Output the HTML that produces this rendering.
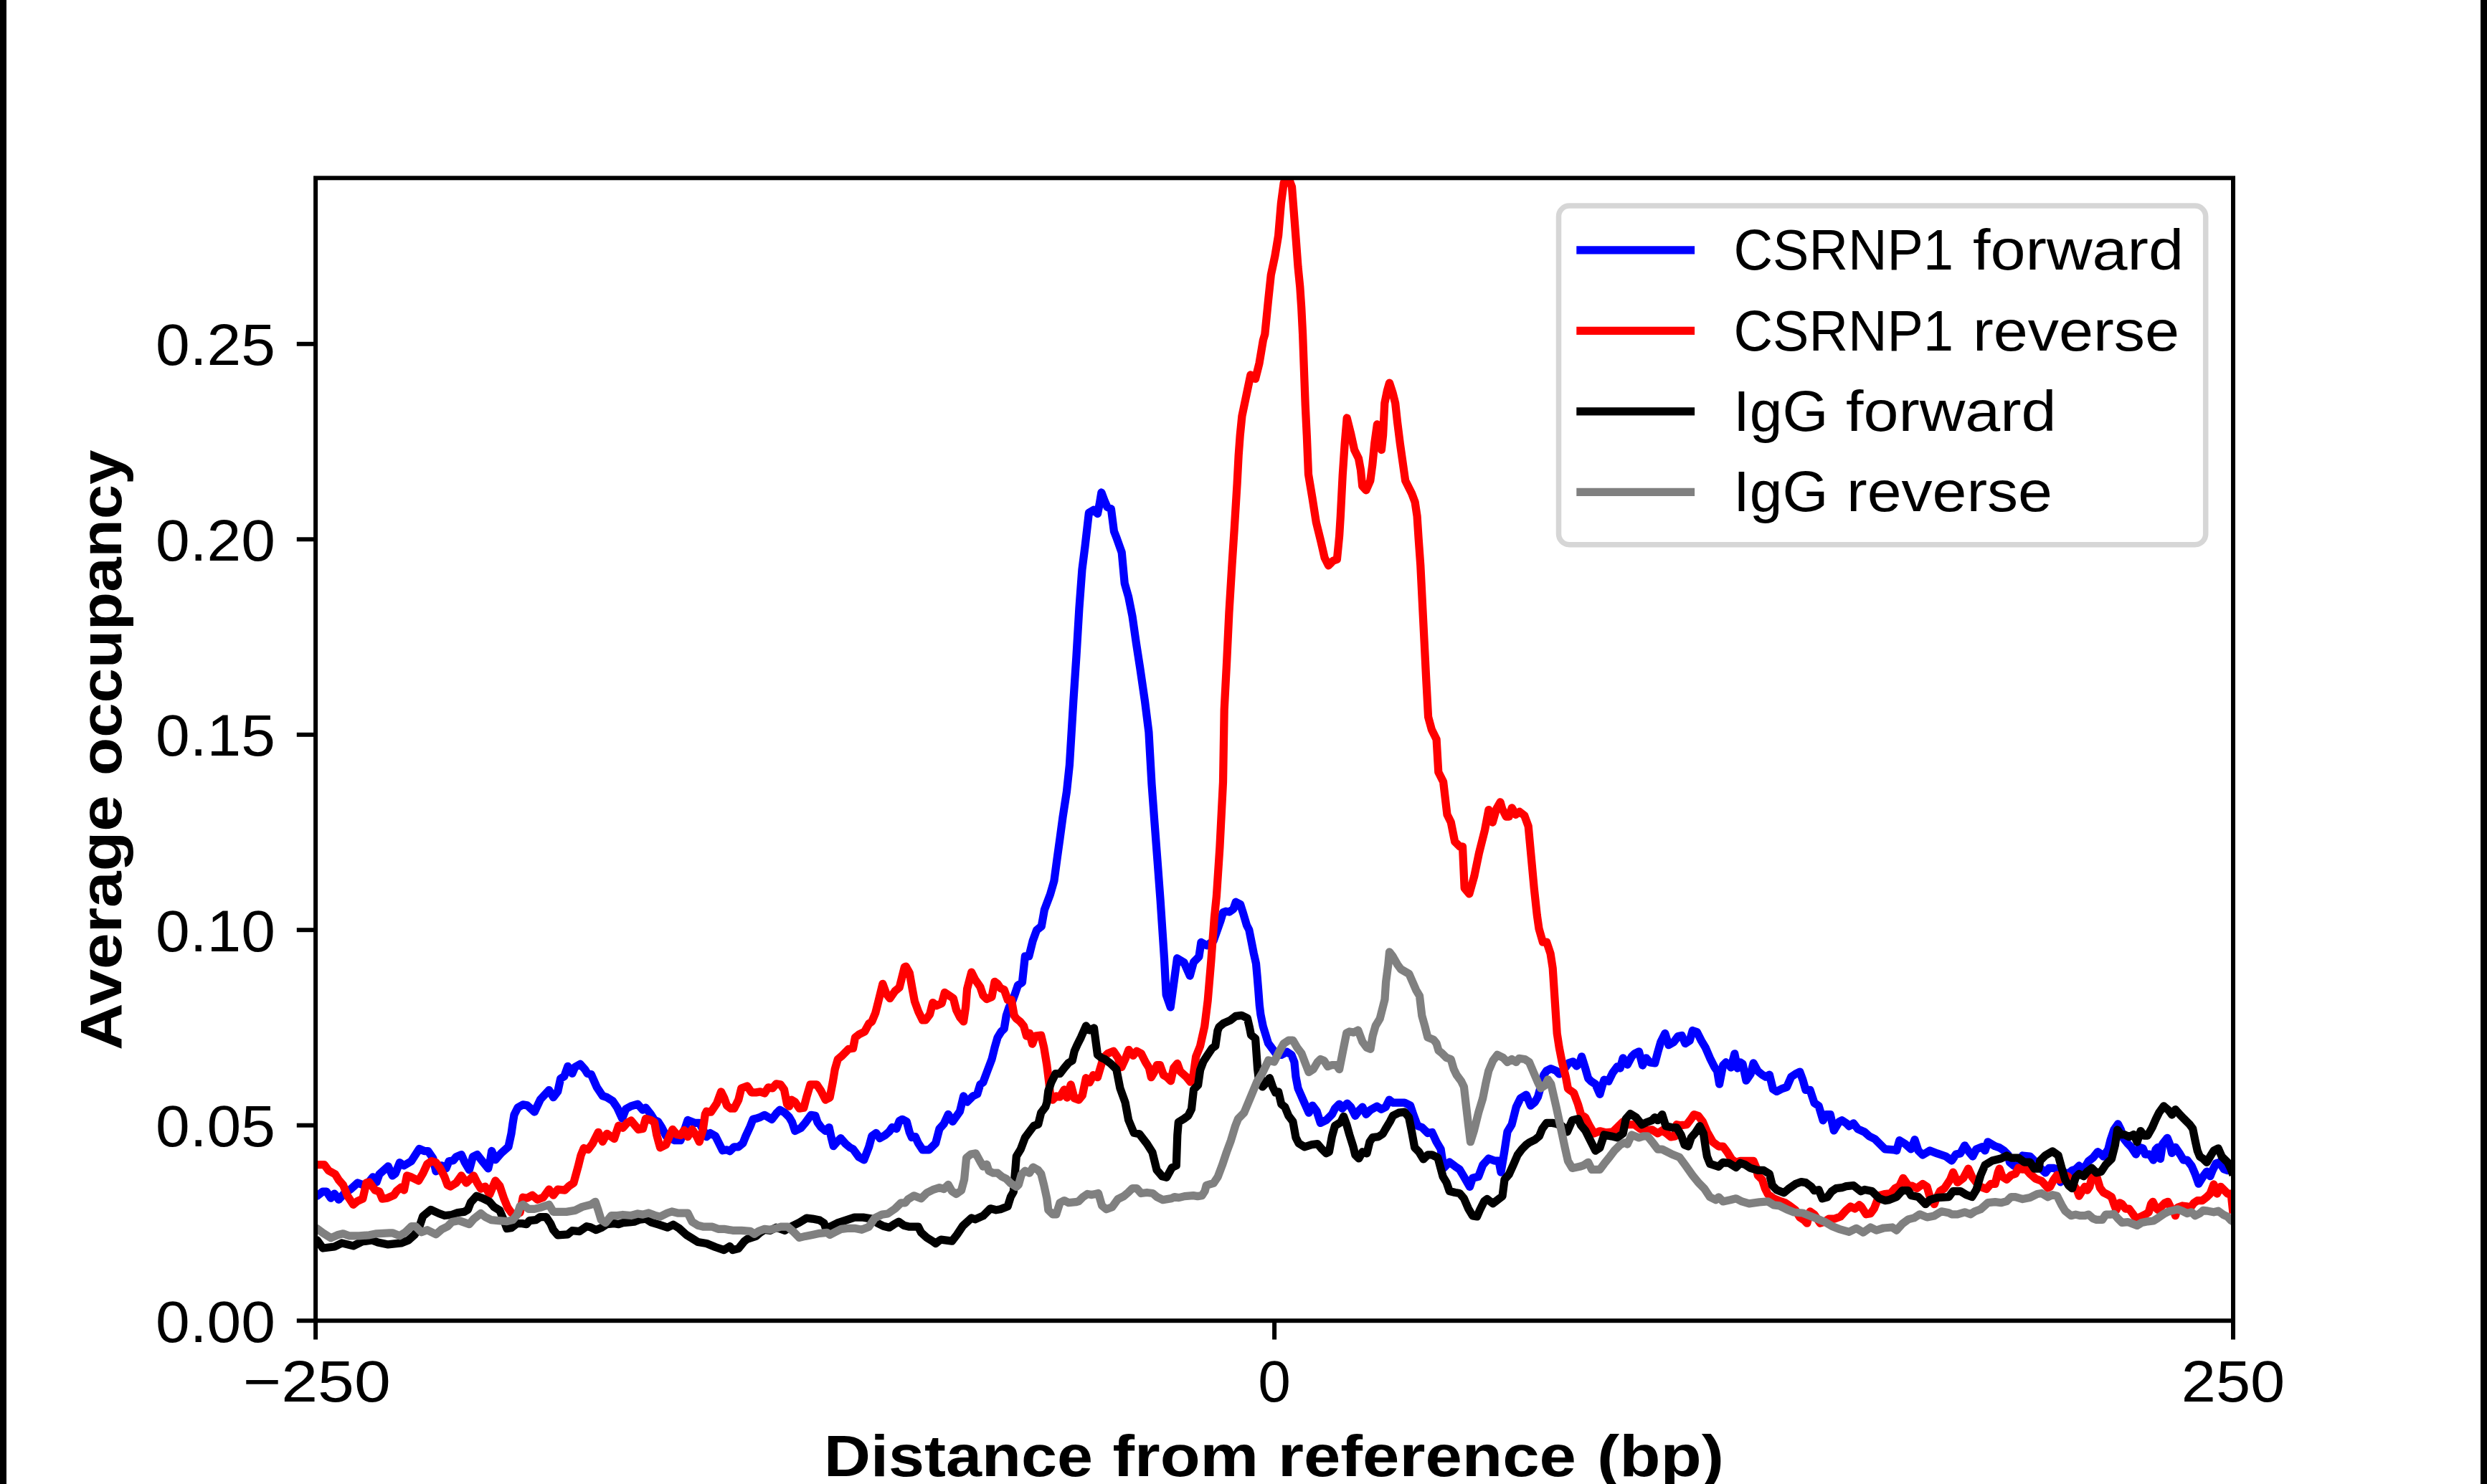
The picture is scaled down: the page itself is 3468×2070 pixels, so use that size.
<!DOCTYPE html>
<html><head><meta charset="utf-8"><style>
html,body{margin:0;padding:0;background:#fff;width:3468px;height:2070px;overflow:hidden}
svg{display:block}
text{font-family:"Liberation Sans",sans-serif;fill:#000}
</style></head><body>
<svg width="3468" height="2070" viewBox="0 0 3468 2070">
<defs><clipPath id="ax"><rect x="440.1" y="248.3" width="2673.9" height="1593.9"/></clipPath></defs>
<rect x="0" y="0" width="3468" height="2070" fill="#fff"/>
<rect x="0" y="0" width="9" height="2070" fill="#000"/>
<rect x="3459" y="0" width="9" height="2070" fill="#000"/>
<g fill="none" stroke-width="11.25" stroke-linejoin="round" stroke-linecap="butt" clip-path="url(#ax)">
<path d="M437.1,1668.2 L442.1,1668.2 L450.2,1662.1 L455.3,1662.1 L461.3,1671.2 L466.4,1665.2 L472.4,1673.3 L480.5,1664.2 L488.6,1659.1 L498.7,1650.0 L506.8,1653.0 L514.9,1648.0 L520.0,1641.9 L525.0,1649.0 L529.0,1637.9 L541.2,1626.8 L547.2,1639.9 L551.3,1636.9 L557.3,1621.7 L563.4,1625.8 L573.5,1619.7 L584.6,1602.5 L591.7,1605.5 L596.8,1605.5 L603.8,1615.6 L607.9,1633.8 L611.9,1631.8 L616.0,1625.8 L622.0,1629.8 L626.1,1619.7 L632.1,1618.7 L636.2,1613.6 L643.3,1610.6 L648.3,1621.7 L654.4,1631.8 L659.4,1613.6 L665.5,1610.6 L672.6,1619.7 L680.7,1629.8 L683.7,1617.7 L685.7,1605.5 L690.8,1617.7 L698.8,1608.6 L709.0,1599.5 L713.0,1581.3 L715.0,1567.1 L717.0,1555.0 L722.1,1544.9 L729.2,1540.9 L735.2,1541.9 L745.3,1551.0 L753.4,1533.8 L765.6,1520.6 L771.6,1530.7 L777.7,1522.7 L781.7,1504.5 L786.8,1501.4 L791.8,1487.3 L797.9,1497.4 L801.9,1488.3 L809.0,1484.3 L816.1,1492.3 L819.1,1497.4 L824.2,1498.4 L832.3,1516.6 L840.3,1528.7 L846.4,1530.7 L854.5,1535.8 L860.6,1544.9 L867.6,1560.1 L872.7,1546.9 L880.0,1542.9 L889.3,1540.1 L896.4,1548.2 L900.4,1545.2 L907.5,1554.3 L912.6,1562.4 L917.6,1564.4 L922.7,1572.5 L928.7,1584.6 L940.9,1590.7 L948.9,1590.7 L955.0,1574.5 L959.0,1562.4 L969.2,1566.4 L975.2,1566.4 L981.3,1577.5 L985.3,1585.6 L990.4,1580.5 L997.5,1584.6 L1007.6,1604.8 L1013.6,1603.8 L1017.7,1605.8 L1023.7,1599.8 L1029.8,1599.8 L1035.9,1594.7 L1039.9,1584.6 L1046.0,1571.5 L1050.0,1561.3 L1054.1,1560.3 L1060.1,1558.3 L1066.2,1555.3 L1076.3,1561.3 L1082.4,1553.3 L1087.4,1548.2 L1094.5,1552.2 L1100.5,1558.3 L1104.6,1565.4 L1108.6,1577.5 L1116.7,1573.5 L1122.8,1566.4 L1130.9,1555.3 L1136.9,1556.3 L1140.0,1565.4 L1145.0,1572.5 L1151.1,1577.5 L1156.1,1572.5 L1159.2,1586.6 L1162.2,1598.7 L1167.3,1592.7 L1172.3,1587.6 L1179.4,1595.7 L1185.4,1600.8 L1189.5,1602.8 L1197.6,1613.9 L1204.7,1617.9 L1211.7,1599.8 L1215.8,1584.6 L1221.8,1580.5 L1226.9,1587.6 L1234.0,1583.6 L1240.0,1578.5 L1244.1,1572.5 L1250.1,1574.5 L1254.2,1563.4 L1258.2,1561.3 L1264.3,1564.4 L1268.3,1579.5 L1271.4,1586.6 L1276.4,1585.6 L1280.5,1594.7 L1286.5,1603.8 L1295.6,1603.8 L1304.7,1594.7 L1310.0,1574.5 L1316.3,1567.4 L1322.3,1554.3 L1328.4,1564.4 L1338.5,1550.2 L1343.6,1529.0 L1348.6,1537.1 L1356.7,1529.0 L1362.8,1526.0 L1366.8,1512.8 L1370.9,1509.8 L1376.9,1493.6 L1383.0,1477.5 L1387.0,1461.3 L1391.1,1447.1 L1396.1,1439.0 L1400.2,1435.0 L1403.2,1416.8 L1407.2,1404.7 L1411.3,1397.6 L1415.3,1386.5 L1419.4,1374.4 L1425.4,1370.3 L1429.4,1333.8 L1434.8,1333.8 L1440.2,1312.2 L1445.6,1297.4 L1452.3,1292.0 L1456.4,1269.1 L1464.5,1247.5 L1469.9,1228.7 L1473.9,1199.0 L1478.0,1169.4 L1482.0,1139.7 L1487.4,1104.7 L1491.4,1067.0 L1496.8,978.1 L1500.9,916.1 L1504.9,848.7 L1508.9,794.8 L1513.0,762.4 L1518.4,715.3 L1525.1,711.2 L1530.5,716.6 L1533.2,703.1 L1535.9,687.0 L1539.9,697.7 L1544.0,707.2 L1549.4,709.9 L1553.4,740.9 L1557.5,751.6 L1564.2,770.5 L1568.2,813.6 L1573.6,832.5 L1579.0,859.5 L1584.4,897.2 L1589.8,932.2 L1596.5,978.1 L1601.9,1021.2 L1606.0,1093.9 L1610.0,1147.8 L1614.1,1201.7 L1618.1,1255.6 L1620.8,1296.1 L1623.5,1336.5 L1626.2,1387.7 L1632.2,1404.9 L1641.5,1336.7 L1651.1,1342.6 L1659.3,1361.1 L1664.5,1341.9 L1671.9,1334.5 L1674.9,1314.4 L1683.0,1318.9 L1692.2,1312.2 L1702.1,1284.1 L1705.4,1272.8 L1709.4,1271.2 L1714.3,1272.0 L1719.9,1267.9 L1723.2,1258.2 L1729.6,1261.5 L1733.7,1274.4 L1738.5,1290.6 L1741.8,1297.0 L1745.0,1313.2 L1748.2,1329.4 L1751.5,1343.9 L1753.1,1361.7 L1754.7,1381.1 L1756.3,1402.2 L1757.9,1415.1 L1761.2,1431.3 L1768.5,1455.2 L1774.6,1463.3 L1780.6,1471.4 L1786.7,1471.4 L1794.8,1467.3 L1800.9,1471.4 L1804.9,1481.5 L1806.9,1501.7 L1810.0,1517.9 L1817.0,1534.1 L1825.1,1552.2 L1830.2,1542.1 L1836.2,1550.2 L1841.3,1566.4 L1849.4,1562.4 L1857.5,1554.3 L1861.5,1546.2 L1867.6,1540.1 L1871.6,1546.2 L1878.7,1539.1 L1883.7,1544.2 L1889.8,1556.3 L1895.9,1548.2 L1899.9,1544.2 L1905.0,1554.3 L1911.0,1548.2 L1920.1,1543.2 L1926.2,1547.2 L1932.2,1544.2 L1937.3,1534.1 L1942.4,1538.1 L1958.5,1538.1 L1966.6,1542.1 L1970.7,1554.3 L1976.7,1570.4 L1982.8,1572.5 L1990.9,1580.5 L1996.9,1579.5 L2003.0,1592.7 L2009.1,1602.8 L2013.1,1629.2 L2021.2,1621.1 L2029.3,1627.1 L2035.3,1631.2 L2041.4,1641.3 L2049.5,1655.4 L2053.5,1643.3 L2061.6,1641.3 L2067.7,1625.1 L2075.8,1616.0 L2083.9,1619.0 L2089.9,1619.0 L2093.0,1635.2 L2098.0,1604.9 L2102.0,1578.6 L2108.1,1568.5 L2114.2,1544.3 L2120.2,1532.1 L2128.3,1527.1 L2134.4,1542.2 L2140.5,1537.1 L2144.5,1530.0 L2148.5,1515.9 L2152.6,1499.7 L2156.6,1493.6 L2162.7,1490.6 L2170.0,1493.6 L2174.3,1498.1 L2182.3,1490.0 L2187.4,1482.9 L2193.5,1480.9 L2198.5,1487.0 L2202.6,1482.9 L2205.6,1473.8 L2210.6,1490.0 L2214.7,1504.2 L2218.7,1508.2 L2224.8,1512.2 L2230.9,1526.4 L2234.9,1512.2 L2236.9,1506.2 L2243.0,1508.2 L2249.0,1496.1 L2255.1,1488.0 L2259.2,1490.0 L2263.2,1475.9 L2269.3,1485.0 L2275.3,1473.8 L2279.4,1469.8 L2285.4,1466.8 L2290.5,1486.0 L2295.5,1475.9 L2300.6,1481.9 L2307.7,1482.9 L2311.7,1467.8 L2315.8,1453.6 L2321.8,1441.5 L2326.9,1457.7 L2333.9,1453.6 L2340.0,1445.5 L2345.1,1444.5 L2350.1,1455.6 L2356.2,1451.6 L2360.2,1437.5 L2366.3,1439.5 L2372.4,1451.6 L2378.4,1461.7 L2384.5,1475.9 L2390.5,1488.0 L2394.6,1494.1 L2397.6,1512.2 L2402.7,1486.0 L2406.7,1481.9 L2410.8,1485.0 L2413.8,1489.0 L2418.8,1469.8 L2422.9,1490.0 L2426.9,1481.9 L2430.0,1483.9 L2435.0,1507.2 L2441.1,1498.1 L2445.1,1482.9 L2451.2,1494.1 L2457.3,1499.1 L2462.3,1502.1 L2467.4,1499.1 L2472.4,1519.3 L2477.5,1522.4 L2485.6,1518.3 L2491.6,1516.3 L2497.7,1502.1 L2503.7,1498.1 L2509.8,1495.1 L2513.9,1506.2 L2517.9,1520.3 L2524.0,1520.3 L2530.0,1538.5 L2536.1,1542.6 L2542.2,1562.8 L2546.2,1554.7 L2552.3,1554.7 L2557.3,1576.9 L2564.4,1564.8 L2568.4,1562.8 L2574.5,1566.8 L2578.5,1570.9 L2584.6,1566.8 L2590.7,1574.9 L2600.0,1579.0 L2606.3,1584.7 L2614.4,1588.7 L2628.5,1602.9 L2640.6,1603.9 L2644.7,1604.9 L2648.7,1590.7 L2656.8,1595.8 L2664.9,1602.9 L2670.0,1589.7 L2675.0,1604.9 L2681.1,1611.0 L2691.2,1604.9 L2701.3,1608.9 L2713.4,1613.0 L2721.5,1619.0 L2727.6,1610.0 L2733.6,1608.9 L2739.7,1597.8 L2745.8,1606.9 L2750.8,1613.0 L2755.9,1602.9 L2763.9,1599.8 L2768.0,1604.9 L2772.0,1592.8 L2782.1,1598.8 L2788.2,1600.9 L2794.3,1604.9 L2800.3,1611.0 L2802.4,1621.1 L2808.4,1626.1 L2814.5,1627.1 L2820.5,1612.0 L2830.7,1613.0 L2836.7,1619.0 L2842.8,1627.1 L2852.3,1635.9 L2857.2,1629.4 L2863.7,1629.4 L2868.5,1631.0 L2873.4,1648.8 L2879.8,1635.9 L2884.7,1636.7 L2889.5,1632.6 L2894.4,1631.0 L2899.2,1626.2 L2905.7,1631.0 L2912.2,1619.7 L2918.7,1614.8 L2925.1,1606.7 L2930.0,1610.0 L2933.2,1613.2 L2939.7,1603.5 L2942.9,1590.6 L2947.8,1576.0 L2953.4,1567.9 L2957.5,1576.0 L2960.7,1587.3 L2967.2,1595.4 L2972.0,1600.3 L2978.5,1610.0 L2983.4,1600.3 L2988.2,1601.9 L2991.4,1610.0 L2997.9,1610.0 L3002.8,1618.1 L3006.0,1603.5 L3009.2,1600.3 L3012.5,1616.4 L3015.7,1595.4 L3022.2,1587.3 L3025.4,1595.4 L3028.6,1608.4 L3033.5,1600.3 L3040.0,1610.0 L3044.8,1618.1 L3049.7,1618.1 L3056.1,1626.2 L3061.0,1637.5 L3065.8,1651.2 L3072.3,1640.7 L3077.2,1634.2 L3082.0,1640.7 L3085.2,1632.6 L3090.1,1622.9 L3094.9,1621.3 L3101.4,1631.0 L3106.3,1632.6 L3111.1,1631.0 L3114.0,1631.3" stroke="#0000ff"/>
<path d="M437.1,1624.7 L442.1,1624.7 L452.2,1624.7 L458.3,1632.8 L467.4,1637.9 L472.4,1646.0 L478.5,1653.0 L484.6,1668.2 L492.7,1680.3 L498.7,1675.3 L505.8,1672.2 L510.9,1650.0 L514.9,1649.0 L523.0,1660.1 L529.0,1662.1 L533.1,1672.2 L540.2,1671.2 L549.3,1667.2 L553.3,1661.1 L559.4,1656.1 L563.4,1660.1 L567.5,1639.9 L573.5,1641.9 L583.6,1647.0 L589.7,1636.9 L595.8,1623.7 L601.8,1619.7 L607.9,1621.7 L613.9,1629.8 L620.0,1641.9 L624.1,1653.0 L628.1,1655.1 L636.2,1650.0 L643.3,1639.9 L650.3,1650.0 L660.4,1639.9 L665.5,1650.0 L670.5,1658.1 L676.6,1655.1 L682.7,1666.2 L690.8,1647.0 L696.8,1654.1 L702.9,1672.2 L707.9,1684.4 L713.0,1691.5 L719.1,1694.5 L725.1,1691.5 L729.2,1670.2 L735.2,1671.2 L742.3,1667.2 L749.4,1673.3 L757.5,1670.2 L765.6,1659.1 L771.6,1667.2 L777.7,1659.1 L787.8,1660.1 L793.9,1654.1 L799.9,1650.0 L806.0,1627.8 L810.0,1611.6 L814.1,1601.5 L820.1,1603.5 L826.2,1595.4 L834.3,1579.3 L840.3,1592.4 L846.4,1581.3 L856.5,1588.4 L862.6,1570.2 L868.6,1573.2 L874.7,1566.1 L880.0,1563.1 L884.3,1568.4 L890.3,1575.5 L896.4,1574.5 L900.4,1560.3 L907.5,1562.4 L912.6,1565.4 L915.6,1582.6 L918.6,1593.7 L920.6,1600.8 L928.7,1596.7 L932.8,1586.6 L937.8,1575.5 L943.9,1582.6 L948.9,1583.6 L954.0,1576.5 L959.0,1585.6 L965.1,1575.5 L971.2,1584.6 L975.2,1592.7 L980.3,1575.5 L983.3,1554.3 L985.3,1550.2 L991.4,1551.2 L999.5,1539.1 L1005.5,1522.9 L1009.6,1531.0 L1013.6,1542.1 L1018.7,1546.2 L1023.7,1546.2 L1029.8,1534.1 L1033.8,1517.9 L1041.9,1514.9 L1048.0,1523.9 L1054.1,1523.9 L1060.1,1522.9 L1066.2,1525.0 L1071.2,1516.9 L1077.3,1517.9 L1082.4,1511.8 L1088.4,1512.8 L1093.5,1519.9 L1097.5,1540.1 L1100.5,1543.2 L1103.6,1534.1 L1108.6,1537.1 L1114.7,1546.2 L1120.8,1545.2 L1124.8,1530.0 L1129.9,1512.8 L1139.0,1512.8 L1145.0,1521.9 L1151.1,1534.1 L1157.1,1531.0 L1161.2,1509.8 L1164.2,1491.6 L1168.3,1477.5 L1173.3,1473.4 L1183.4,1463.3 L1189.5,1462.3 L1192.5,1447.1 L1197.6,1443.1 L1205.7,1439.0 L1211.7,1427.9 L1215.8,1424.9 L1220.8,1412.8 L1224.9,1396.6 L1230.9,1372.3 L1236.0,1386.5 L1241.0,1392.6 L1248.1,1382.4 L1254.2,1377.4 L1261.3,1349.1 L1263.3,1348.1 L1268.3,1357.2 L1272.4,1380.4 L1275.4,1396.6 L1280.5,1410.7 L1286.5,1422.9 L1290.6,1422.9 L1296.6,1414.8 L1300.7,1398.6 L1306.2,1402.7 L1313.2,1399.6 L1317.3,1384.5 L1323.4,1388.5 L1329.4,1392.6 L1333.5,1408.7 L1338.5,1418.8 L1343.6,1424.9 L1346.6,1404.7 L1348.6,1379.4 L1354.7,1356.2 L1359.7,1366.3 L1366.8,1376.4 L1370.9,1388.5 L1375.9,1393.6 L1383.0,1390.5 L1387.0,1369.3 L1391.1,1372.3 L1395.1,1378.4 L1400.2,1380.4 L1405.2,1394.6 L1410.3,1394.6 L1414.3,1416.8 L1417.3,1420.9 L1422.4,1424.9 L1427.5,1431.0 L1431.5,1445.1 L1435.5,1441.1 L1439.6,1456.2 L1443.6,1445.1 L1451.7,1444.1 L1455.8,1461.3 L1459.8,1485.5 L1462.8,1509.8 L1464.9,1530.0 L1467.9,1534.1 L1472.9,1529.0 L1478.0,1530.0 L1484.1,1519.9 L1488.1,1531.0 L1493.2,1512.8 L1498.2,1532.0 L1504.3,1534.1 L1509.3,1528.0 L1514.4,1503.7 L1519.4,1509.8 L1524.5,1499.7 L1530.5,1502.7 L1535.6,1485.5 L1538.6,1475.4 L1544.7,1469.4 L1552.8,1466.3 L1558.8,1475.4 L1563.9,1488.6 L1569.0,1477.5 L1574.0,1464.3 L1580.1,1472.4 L1585.1,1466.3 L1591.2,1469.4 L1597.3,1481.5 L1602.3,1489.6 L1605.3,1502.7 L1609.4,1495.6 L1613.4,1485.5 L1617.5,1485.5 L1622.5,1499.7 L1627.6,1502.7 L1632.6,1507.8 L1636.7,1489.6 L1641.7,1483.5 L1645.8,1494.6 L1653.9,1501.7 L1660.0,1509.1 L1663.0,1507.6 L1667.6,1474.2 L1673.6,1459.1 L1679.7,1431.8 L1684.2,1395.5 L1688.8,1340.9 L1693.3,1280.3 L1696.4,1250.0 L1700.9,1181.8 L1705.5,1090.9 L1707.2,989.5 L1710.7,922.2 L1713.9,854.8 L1718.0,787.4 L1721.1,740.0 L1725.1,674.8 L1727.2,634.3 L1729.2,607.4 L1731.9,580.4 L1743.9,523.0 L1750.6,528.4 L1756.0,506.8 L1761.4,474.5 L1763.8,466.4 L1768.5,419.2 L1772.3,383.4 L1777.9,357.0 L1782.6,328.7 L1786.4,283.4 L1790.2,255.1 L1793.0,248.3 L1796.0,248.3 L1798.7,253.2 L1801.5,260.8 L1804.3,296.6 L1807.2,334.3 L1810.0,372.1 L1812.8,400.4 L1814.7,428.7 L1816.6,466.4 L1820.2,564.7 L1822.3,607.8 L1824.5,661.6 L1829.9,694.0 L1835.3,728.4 L1841.7,754.3 L1847.1,778.0 L1852.5,788.8 L1859.0,782.3 L1864.4,780.2 L1867.6,747.8 L1869.3,720.1 L1872.2,663.1 L1875.2,618.6 L1878.2,583.0 L1883.4,603.8 L1888.6,627.5 L1894.5,639.4 L1897.5,655.7 L1899.7,678.0 L1904.9,683.9 L1910.8,670.5 L1913.8,648.3 L1916.7,618.6 L1920.4,591.9 L1924.2,596.4 L1926.4,627.5 L1928.6,606.8 L1930.8,562.3 L1934.5,544.5 L1937.5,534.1 L1941.9,547.5 L1945.7,562.3 L1948.6,589.0 L1952.3,618.6 L1959.7,670.5 L1968.6,688.3 L1973.1,700.2 L1976.1,720.1 L1978.1,750.9 L1980.8,788.7 L1983.5,842.6 L1986.2,896.5 L1988.9,950.4 L1991.6,1000.0 L1996.4,1017.7 L2003.1,1031.2 L2005.8,1077.0 L2012.6,1090.5 L2018.0,1136.3 L2023.3,1147.1 L2028.7,1174.1 L2035.5,1180.8 L2039.5,1180.8 L2042.2,1238.8 L2048.9,1246.8 L2055.7,1222.6 L2062.4,1190.2 L2070.5,1157.9 L2075.9,1129.6 L2081.3,1147.1 L2086.7,1128.2 L2092.1,1118.8 L2094.8,1128.2 L2100.2,1139.0 L2104.2,1139.0 L2108.2,1126.9 L2113.6,1136.3 L2119.0,1132.3 L2125.8,1137.7 L2131.2,1152.5 L2135.2,1195.6 L2139.2,1238.8 L2143.3,1276.5 L2146.0,1295.4 L2151.4,1314.2 L2156.8,1314.2 L2162.1,1330.3 L2165.2,1350.5 L2167.2,1380.9 L2169.2,1411.2 L2171.2,1441.5 L2174.3,1461.7 L2178.3,1481.9 L2183.4,1502.1 L2186.4,1518.3 L2188.4,1520.2 L2194.5,1524.3 L2200.5,1540.4 L2204.6,1554.6 L2210.6,1558.6 L2216.7,1570.7 L2222.8,1580.9 L2230.9,1577.8 L2238.9,1579.8 L2249.0,1578.8 L2255.1,1572.8 L2263.2,1564.7 L2271.3,1568.7 L2279.4,1568.7 L2287.5,1574.8 L2295.5,1576.8 L2303.6,1575.8 L2311.7,1580.9 L2317.8,1576.8 L2323.8,1580.9 L2329.9,1585.9 L2336.0,1584.9 L2338.0,1568.7 L2344.1,1569.7 L2352.1,1568.7 L2358.2,1560.6 L2362.2,1554.6 L2368.3,1556.6 L2374.4,1564.7 L2380.4,1578.8 L2388.5,1593.0 L2396.6,1599.0 L2402.7,1599.0 L2408.7,1607.1 L2414.8,1617.2 L2420.9,1621.3 L2426.9,1619.3 L2435.0,1619.3 L2445.1,1619.3 L2449.2,1629.4 L2451.2,1639.5 L2457.3,1645.5 L2461.3,1657.7 L2465.3,1665.8 L2473.4,1671.8 L2483.5,1675.9 L2489.6,1677.9 L2495.7,1681.9 L2503.7,1688.0 L2509.8,1698.1 L2515.9,1702.1 L2519.9,1706.2 L2524.0,1690.0 L2530.0,1694.1 L2538.1,1706.2 L2544.2,1704.2 L2550.2,1700.1 L2558.3,1700.1 L2566.4,1697.1 L2574.5,1688.0 L2580.6,1682.9 L2586.6,1686.0 L2592.7,1680.9 L2595.2,1682.7 L2602.2,1693.8 L2608.3,1692.8 L2613.4,1685.8 L2620.4,1667.6 L2628.5,1665.5 L2636.6,1664.5 L2642.7,1657.5 L2648.7,1654.4 L2653.8,1643.3 L2660.9,1653.4 L2666.9,1654.4 L2673.0,1657.5 L2681.1,1651.4 L2687.1,1655.4 L2691.2,1669.6 L2697.2,1679.7 L2699.3,1673.6 L2705.3,1661.5 L2711.4,1657.5 L2719.5,1645.3 L2723.5,1635.2 L2729.6,1649.4 L2737.7,1643.3 L2744.7,1630.2 L2749.8,1641.3 L2755.9,1649.4 L2761.9,1655.4 L2770.0,1658.5 L2776.1,1651.4 L2782.1,1651.4 L2786.2,1635.2 L2788.2,1630.2 L2792.2,1641.3 L2798.3,1645.3 L2804.4,1639.3 L2810.4,1637.2 L2814.5,1629.2 L2820.5,1631.2 L2824.6,1630.2 L2830.7,1637.2 L2838.7,1644.3 L2846.8,1647.3 L2855.6,1656.9 L2858.8,1655.3 L2863.7,1645.6 L2868.5,1639.1 L2871.8,1645.6 L2875.0,1642.3 L2883.1,1640.7 L2887.9,1645.6 L2892.0,1653.6 L2896.0,1659.3 L2899.2,1668.2 L2904.1,1660.1 L2907.3,1655.3 L2910.6,1660.1 L2913.8,1655.3 L2917.0,1642.3 L2920.3,1639.1 L2923.5,1640.7 L2928.4,1656.9 L2933.2,1663.4 L2939.7,1666.6 L2944.5,1669.8 L2947.8,1679.5 L2951.0,1687.6 L2955.9,1677.9 L2959.1,1679.5 L2963.9,1686.0 L2968.8,1686.0 L2973.6,1692.5 L2978.5,1699.7 L2985.0,1697.3 L2991.4,1694.1 L2996.3,1690.8 L2999.5,1679.5 L3002.0,1676.3 L3006.0,1684.4 L3009.2,1687.6 L3014.1,1682.8 L3018.9,1677.9 L3023.0,1676.3 L3027.0,1684.4 L3031.9,1690.8 L3033.5,1695.7 L3036.7,1684.4 L3043.2,1682.0 L3049.7,1682.8 L3054.5,1684.4 L3059.4,1677.9 L3064.2,1674.7 L3070.7,1674.7 L3077.2,1669.8 L3082.0,1665.0 L3086.9,1652.0 L3091.7,1665.0 L3096.6,1655.3 L3101.4,1660.1 L3106.3,1665.0 L3111.1,1665.0 L3114.0,1692.5" stroke="#ff0000"/>
<path d="M437.1,1729.9 L442.1,1729.9 L450.2,1741.0 L458.3,1740.0 L466.4,1739.0 L476.5,1733.9 L492.7,1737.9 L504.8,1731.9 L518.9,1729.9 L527.0,1732.9 L541.2,1735.9 L559.4,1733.9 L569.5,1729.9 L577.6,1722.8 L583.6,1714.7 L589.7,1696.5 L600.8,1687.4 L611.9,1692.5 L620.0,1695.5 L630.1,1694.5 L638.2,1691.5 L647.3,1690.4 L652.4,1687.4 L656.4,1677.3 L664.5,1668.2 L672.6,1671.2 L682.7,1676.3 L688.7,1683.4 L696.8,1688.4 L701.9,1700.5 L706.9,1713.7 L713.0,1712.7 L721.1,1706.6 L728.2,1706.6 L734.2,1707.6 L738.3,1702.6 L747.4,1701.6 L753.4,1697.5 L761.5,1697.5 L767.6,1706.6 L771.6,1715.7 L777.7,1722.8 L791.8,1721.8 L797.9,1716.7 L808.0,1717.7 L818.1,1710.7 L823.2,1711.7 L831.3,1715.7 L838.3,1712.7 L846.4,1707.6 L856.5,1706.6 L862.6,1707.6 L868.6,1705.6 L880.0,1704.6 L884.3,1704.2 L892.3,1701.1 L900.4,1700.1 L908.5,1705.2 L918.6,1708.2 L930.7,1712.2 L938.8,1708.2 L946.9,1713.3 L957.0,1722.4 L965.1,1727.4 L973.2,1732.5 L985.3,1734.5 L997.5,1739.5 L1009.6,1743.6 L1017.7,1738.5 L1021.7,1743.6 L1029.8,1741.6 L1037.9,1731.5 L1041.9,1728.4 L1054.1,1724.4 L1060.1,1719.3 L1066.2,1715.3 L1074.3,1716.3 L1082.4,1712.2 L1088.4,1714.3 L1094.5,1716.3 L1102.6,1711.2 L1114.7,1705.2 L1124.8,1699.1 L1132.9,1700.1 L1143.0,1702.1 L1149.1,1706.2 L1151.1,1712.2 L1157.1,1711.2 L1167.3,1706.2 L1179.4,1702.1 L1191.5,1698.1 L1203.6,1698.1 L1215.8,1700.1 L1223.9,1706.2 L1231.9,1710.2 L1240.0,1712.2 L1246.1,1708.2 L1253.2,1704.2 L1260.2,1709.2 L1268.3,1711.2 L1280.5,1711.2 L1284.5,1719.3 L1292.6,1726.4 L1300.7,1731.5 L1304.7,1734.5 L1310.0,1730.4 L1312.2,1729.2 L1327.4,1731.2 L1334.5,1722.1 L1342.6,1710.0 L1354.7,1698.9 L1359.7,1700.9 L1370.9,1695.9 L1381.0,1685.8 L1389.0,1687.8 L1395.1,1686.8 L1405.2,1682.7 L1409.3,1669.6 L1413.3,1662.5 L1417.3,1612.9 L1423.4,1602.8 L1429.5,1586.6 L1435.5,1578.5 L1441.6,1570.4 L1447.7,1568.4 L1451.7,1552.2 L1457.8,1544.2 L1459.8,1538.1 L1461.8,1521.9 L1465.9,1509.8 L1471.9,1497.7 L1478.0,1497.7 L1484.1,1489.6 L1490.1,1482.5 L1495.2,1479.5 L1498.2,1466.3 L1502.2,1457.2 L1507.3,1447.1 L1514.4,1431.0 L1519.4,1437.0 L1525.5,1434.0 L1530.5,1471.4 L1535.6,1475.4 L1540.7,1477.5 L1548.7,1483.5 L1556.8,1491.6 L1561.9,1517.9 L1569.1,1537.9 L1573.6,1562.1 L1581.2,1580.3 L1588.8,1581.8 L1599.4,1595.5 L1607.0,1607.6 L1613.0,1631.8 L1620.6,1640.9 L1626.7,1642.4 L1634.2,1628.8 L1640.3,1625.8 L1641.8,1583.3 L1643.3,1565.2 L1650.9,1560.6 L1657.0,1556.1 L1661.5,1547.0 L1664.5,1519.7 L1670.6,1513.6 L1673.6,1492.4 L1678.2,1480.3 L1684.2,1471.2 L1690.3,1462.1 L1694.8,1459.1 L1697.9,1437.9 L1700.0,1432.5 L1706.1,1427.4 L1715.2,1423.4 L1723.3,1417.3 L1731.3,1416.3 L1739.4,1420.3 L1742.5,1433.5 L1744.5,1443.6 L1750.6,1448.6 L1753.6,1491.1 L1755.1,1503.2 L1757.4,1499.7 L1760.4,1515.9 L1764.5,1511.8 L1770.5,1503.7 L1774.6,1515.9 L1778.6,1523.9 L1782.7,1522.9 L1786.7,1540.1 L1791.8,1544.2 L1796.8,1556.3 L1802.9,1564.4 L1806.9,1586.6 L1811.0,1594.7 L1819.0,1599.8 L1829.2,1596.7 L1837.2,1595.7 L1843.3,1602.8 L1849.4,1608.8 L1853.4,1606.8 L1857.5,1584.6 L1861.5,1570.4 L1869.6,1565.4 L1873.6,1557.3 L1877.7,1568.4 L1881.7,1582.6 L1886.8,1598.7 L1889.8,1610.9 L1894.9,1615.9 L1899.9,1606.8 L1906.0,1608.8 L1910.0,1592.7 L1914.1,1586.6 L1922.1,1585.6 L1928.2,1581.6 L1932.2,1574.5 L1938.3,1564.4 L1942.4,1556.3 L1950.4,1552.2 L1958.5,1551.2 L1964.6,1558.3 L1968.6,1578.5 L1972.7,1600.8 L1978.7,1606.8 L1984.8,1616.9 L1990.9,1610.9 L1996.9,1610.9 L2005.0,1614.9 L2012.1,1641.3 L2017.1,1649.4 L2021.2,1661.5 L2029.3,1663.5 L2035.3,1664.5 L2041.4,1671.6 L2047.5,1685.8 L2053.5,1695.9 L2059.6,1696.9 L2063.6,1687.8 L2069.7,1675.6 L2073.7,1672.6 L2081.8,1678.7 L2089.9,1672.6 L2095.0,1668.6 L2098.0,1645.3 L2104.1,1638.3 L2110.1,1625.1 L2116.2,1611.0 L2122.3,1602.9 L2128.3,1596.8 L2132.4,1593.8 L2140.5,1589.7 L2146.5,1584.7 L2150.6,1574.5 L2156.6,1566.4 L2164.7,1566.4 L2170.0,1567.4 L2178.3,1570.7 L2185.4,1578.8 L2192.4,1562.7 L2200.5,1560.6 L2204.6,1569.7 L2210.6,1576.8 L2216.7,1588.9 L2224.8,1605.1 L2230.9,1601.1 L2236.9,1582.9 L2247.0,1584.9 L2255.1,1586.9 L2263.2,1580.9 L2267.2,1560.6 L2273.3,1553.6 L2281.4,1558.6 L2289.5,1568.7 L2295.5,1565.7 L2303.6,1562.7 L2307.7,1558.6 L2311.7,1562.7 L2317.8,1554.6 L2322.8,1570.7 L2331.9,1572.8 L2338.0,1572.8 L2344.1,1582.9 L2349.1,1597.0 L2354.2,1599.0 L2358.2,1586.9 L2364.3,1579.8 L2370.3,1570.7 L2375.4,1580.9 L2378.4,1601.1 L2380.4,1613.2 L2384.5,1623.3 L2396.6,1627.3 L2402.7,1621.3 L2410.8,1622.3 L2420.9,1628.4 L2426.9,1622.3 L2433.0,1624.3 L2441.1,1629.4 L2451.2,1632.4 L2459.3,1632.4 L2467.4,1637.5 L2471.4,1653.6 L2477.5,1659.7 L2487.6,1663.7 L2493.6,1658.7 L2503.7,1651.6 L2511.8,1648.6 L2517.9,1649.6 L2526.0,1655.6 L2530.0,1660.7 L2536.1,1659.7 L2541.1,1671.8 L2548.2,1669.8 L2554.3,1661.7 L2560.3,1657.7 L2568.4,1656.7 L2574.5,1654.6 L2584.6,1653.6 L2594.7,1661.7 L2600.2,1659.5 L2610.3,1661.5 L2620.4,1671.6 L2628.5,1674.6 L2634.6,1673.6 L2644.7,1669.6 L2652.8,1660.5 L2660.9,1660.5 L2664.9,1667.6 L2675.0,1669.6 L2685.1,1679.7 L2691.2,1673.6 L2701.3,1670.6 L2717.5,1669.6 L2723.5,1661.5 L2733.6,1661.5 L2741.7,1666.6 L2749.8,1669.6 L2755.9,1659.5 L2761.9,1639.3 L2768.0,1625.1 L2778.1,1619.0 L2790.2,1616.0 L2798.3,1612.0 L2804.4,1615.0 L2814.5,1615.0 L2822.6,1621.1 L2830.7,1621.1 L2836.7,1630.2 L2842.8,1630.2 L2844.8,1619.0 L2852.3,1611.6 L2862.1,1605.9 L2870.1,1611.6 L2875.0,1629.4 L2879.8,1645.6 L2884.7,1653.6 L2889.5,1657.7 L2894.4,1642.3 L2899.2,1637.5 L2905.7,1640.7 L2910.6,1634.2 L2917.0,1629.4 L2923.5,1635.9 L2930.0,1634.2 L2936.4,1624.5 L2944.5,1616.4 L2949.4,1597.0 L2952.6,1576.0 L2957.5,1582.5 L2962.3,1582.5 L2968.8,1585.7 L2975.3,1582.5 L2980.1,1593.0 L2985.0,1577.6 L2989.8,1584.1 L2994.7,1584.1 L3001.1,1572.8 L3006.0,1561.5 L3010.8,1551.8 L3017.3,1542.9 L3023.8,1548.5 L3028.6,1555.0 L3033.5,1547.7 L3040.0,1555.0 L3046.4,1561.5 L3052.9,1567.9 L3057.7,1574.4 L3061.0,1590.6 L3064.2,1605.1 L3067.5,1613.2 L3072.3,1616.4 L3077.2,1621.3 L3082.0,1613.2 L3086.9,1605.1 L3093.3,1601.9 L3098.2,1613.2 L3101.4,1616.4 L3106.3,1621.3 L3111.1,1631.0 L3114.0,1639.1" stroke="#000000"/>
<path d="M437.1,1713.7 L442.1,1713.7 L450.2,1719.8 L461.3,1726.8 L470.4,1722.8 L478.5,1720.8 L486.6,1723.8 L500.7,1723.8 L514.9,1722.8 L525.0,1720.8 L543.2,1719.8 L547.2,1719.8 L557.3,1723.8 L565.4,1718.7 L573.5,1710.7 L579.6,1710.7 L587.7,1718.7 L595.8,1715.7 L607.9,1721.8 L616.0,1714.7 L624.1,1710.7 L630.1,1704.6 L640.2,1702.6 L654.4,1707.6 L660.4,1700.5 L670.5,1692.5 L676.6,1697.5 L684.7,1701.6 L694.8,1702.6 L706.9,1703.6 L715.0,1701.6 L721.1,1694.5 L725.1,1682.4 L729.2,1680.3 L737.3,1686.4 L745.3,1686.4 L753.4,1684.4 L765.6,1680.3 L771.6,1690.4 L777.7,1690.4 L789.8,1690.4 L801.9,1688.4 L812.0,1683.4 L824.2,1680.3 L830.2,1676.3 L834.3,1688.4 L838.3,1701.6 L844.4,1705.6 L852.5,1695.5 L860.6,1695.5 L868.6,1694.5 L880.0,1695.5 L889.3,1693.0 L896.4,1694.1 L904.5,1692.0 L912.6,1695.1 L920.6,1697.1 L930.7,1692.0 L936.8,1690.0 L944.9,1692.0 L953.0,1692.0 L959.0,1692.0 L965.1,1704.2 L973.2,1709.2 L981.3,1711.2 L993.4,1711.2 L1001.5,1714.3 L1009.6,1714.3 L1021.7,1716.3 L1033.8,1716.3 L1046.0,1717.3 L1052.0,1721.3 L1058.1,1717.3 L1066.2,1714.3 L1074.3,1715.3 L1082.4,1713.3 L1088.4,1711.2 L1098.5,1711.2 L1106.6,1718.3 L1114.7,1726.4 L1122.8,1724.4 L1132.9,1722.4 L1143.0,1720.3 L1153.1,1719.3 L1157.1,1722.4 L1165.2,1718.3 L1173.3,1714.3 L1181.4,1713.3 L1191.5,1713.3 L1201.6,1715.3 L1211.7,1711.2 L1219.8,1699.1 L1229.9,1694.1 L1238.0,1693.0 L1248.1,1686.0 L1256.2,1677.9 L1262.3,1677.9 L1266.3,1672.8 L1274.4,1667.8 L1284.5,1671.8 L1292.6,1663.7 L1300.7,1659.7 L1310.0,1656.7 L1316.3,1658.5 L1322.3,1652.4 L1327.4,1661.5 L1333.5,1665.5 L1340.5,1660.5 L1344.6,1645.3 L1347.6,1615.0 L1353.7,1610.0 L1360.7,1608.9 L1366.8,1620.1 L1370.9,1627.1 L1375.9,1624.1 L1378.9,1633.2 L1385.0,1636.2 L1391.1,1636.2 L1397.1,1641.3 L1403.2,1644.3 L1409.3,1650.4 L1417.3,1655.4 L1420.4,1652.4 L1424.4,1638.3 L1429.5,1633.2 L1435.5,1636.2 L1440.6,1628.1 L1447.7,1632.2 L1451.7,1637.2 L1455.8,1653.4 L1459.8,1671.6 L1461.8,1687.8 L1467.9,1693.8 L1472.9,1693.8 L1478.0,1677.7 L1484.1,1674.6 L1490.1,1677.7 L1500.2,1676.7 L1504.3,1675.6 L1510.3,1669.6 L1516.4,1665.5 L1522.5,1666.6 L1531.6,1664.5 L1536.6,1681.7 L1542.7,1686.8 L1550.8,1683.7 L1558.8,1672.6 L1566.9,1668.6 L1573.0,1663.5 L1579.1,1657.5 L1585.1,1657.5 L1591.2,1664.5 L1599.3,1663.5 L1607.4,1664.5 L1613.4,1669.6 L1621.5,1673.6 L1633.6,1671.6 L1637.7,1669.6 L1643.7,1670.6 L1651.8,1668.6 L1664.0,1667.6 L1670.0,1668.6 L1676.1,1667.6 L1680.1,1661.5 L1682.2,1653.4 L1692.3,1650.4 L1698.3,1641.3 L1704.4,1625.1 L1710.5,1606.9 L1716.5,1590.7 L1722.6,1570.5 L1726.6,1560.4 L1734.7,1552.3 L1745.5,1526.5 L1752.6,1509.3 L1760.7,1496.2 L1768.8,1479.0 L1776.8,1481.0 L1783.9,1466.8 L1790.0,1455.7 L1796.8,1451.2 L1802.9,1451.2 L1808.9,1461.3 L1815.0,1469.4 L1821.1,1485.5 L1825.1,1495.6 L1831.2,1491.6 L1837.2,1481.5 L1841.3,1477.5 L1846.3,1479.5 L1851.4,1487.6 L1857.5,1485.5 L1863.5,1485.5 L1867.6,1491.6 L1873.6,1461.3 L1877.7,1441.1 L1881.7,1439.0 L1887.8,1440.1 L1893.8,1437.0 L1899.9,1453.2 L1906.0,1461.3 L1911.0,1463.3 L1914.1,1445.1 L1918.1,1431.0 L1924.2,1420.9 L1931.0,1394.1 L1932.6,1369.8 L1935.8,1345.6 L1937.5,1327.8 L1942.3,1334.2 L1948.8,1345.6 L1953.6,1352.0 L1964.9,1358.5 L1969.8,1369.8 L1974.7,1381.1 L1979.5,1389.2 L1982.8,1416.8 L1986.8,1431.0 L1990.9,1447.1 L1999.0,1450.2 L2003.0,1455.2 L2006.0,1465.3 L2011.1,1469.4 L2017.1,1475.4 L2023.2,1477.5 L2027.3,1491.6 L2031.3,1499.7 L2037.4,1507.8 L2041.4,1515.9 L2044.4,1542.1 L2047.5,1568.4 L2050.5,1592.7 L2055.6,1576.5 L2061.6,1552.2 L2067.7,1532.0 L2071.7,1511.8 L2075.8,1493.6 L2081.8,1479.5 L2087.9,1471.4 L2096.0,1475.4 L2102.0,1481.5 L2108.1,1477.5 L2114.2,1481.5 L2118.2,1476.4 L2126.3,1477.5 L2132.4,1481.5 L2138.4,1495.6 L2144.5,1509.8 L2148.5,1517.9 L2154.6,1513.8 L2158.6,1505.8 L2162.7,1511.8 L2170.2,1544.5 L2176.3,1572.8 L2182.3,1601.1 L2186.4,1619.3 L2192.4,1629.4 L2202.6,1627.3 L2208.6,1625.3 L2214.7,1621.3 L2219.7,1631.4 L2230.9,1631.4 L2236.9,1623.3 L2245.0,1613.2 L2251.1,1605.1 L2259.2,1597.0 L2265.2,1594.0 L2269.3,1596.0 L2275.3,1582.9 L2285.4,1586.9 L2291.5,1584.9 L2297.6,1584.9 L2305.6,1595.0 L2311.7,1603.1 L2317.8,1603.1 L2323.8,1606.1 L2331.9,1610.2 L2342.0,1614.2 L2350.1,1625.3 L2360.2,1639.5 L2368.3,1649.6 L2376.4,1657.7 L2384.5,1669.8 L2392.6,1673.8 L2396.6,1669.8 L2402.7,1675.9 L2412.8,1673.8 L2420.9,1671.8 L2429.0,1675.9 L2439.1,1678.9 L2453.2,1676.9 L2465.3,1675.9 L2473.4,1680.9 L2481.5,1681.9 L2491.6,1687.0 L2501.7,1691.0 L2513.9,1692.0 L2524.0,1696.1 L2534.1,1700.1 L2544.2,1704.2 L2554.3,1710.2 L2564.4,1714.3 L2578.5,1718.3 L2588.6,1713.3 L2598.2,1719.1 L2608.3,1712.0 L2616.4,1716.1 L2626.5,1713.0 L2638.6,1712.0 L2644.7,1716.1 L2652.8,1707.0 L2660.9,1700.9 L2668.9,1698.9 L2677.0,1693.8 L2687.1,1697.9 L2697.2,1695.9 L2707.3,1689.8 L2717.5,1691.8 L2721.5,1693.8 L2729.6,1693.8 L2739.7,1690.8 L2747.8,1693.8 L2753.8,1689.8 L2761.9,1686.8 L2772.0,1677.7 L2782.1,1676.7 L2790.2,1677.7 L2798.3,1675.6 L2804.4,1669.6 L2810.4,1669.6 L2820.5,1672.6 L2830.7,1670.6 L2840.8,1665.5 L2846.8,1664.5 L2855.6,1669.8 L2862.1,1666.6 L2868.5,1668.2 L2875.0,1681.1 L2879.8,1689.2 L2887.9,1695.7 L2894.4,1694.1 L2900.9,1695.7 L2907.3,1695.7 L2912.2,1694.1 L2918.7,1699.7 L2923.5,1701.4 L2931.6,1701.4 L2936.4,1694.1 L2942.9,1694.1 L2947.8,1693.3 L2952.6,1698.9 L2959.1,1705.4 L2967.2,1704.6 L2973.6,1707.0 L2980.1,1709.4 L2986.6,1705.4 L2994.7,1703.8 L3002.8,1703.0 L3009.2,1698.9 L3017.3,1693.3 L3023.8,1690.0 L3030.3,1688.4 L3036.7,1686.8 L3043.2,1689.2 L3049.7,1692.5 L3056.1,1690.8 L3061.0,1695.7 L3067.5,1692.5 L3072.3,1688.4 L3078.8,1689.2 L3086.9,1690.8 L3093.3,1689.2 L3099.8,1694.1 L3106.3,1697.3 L3111.1,1702.2 L3114.0,1704.1" stroke="#808080"/>
</g>
<rect x="440.1" y="248.3" width="2673.9" height="1593.9" fill="none" stroke="#000" stroke-width="6" stroke-linejoin="miter"/>
<g stroke="#000" stroke-width="6">
<line x1="413.8" y1="1842.2" x2="440.1" y2="1842.2"/>
<line x1="413.8" y1="1569.7" x2="440.1" y2="1569.7"/>
<line x1="413.8" y1="1297.2" x2="440.1" y2="1297.2"/>
<line x1="413.8" y1="1024.8" x2="440.1" y2="1024.8"/>
<line x1="413.8" y1="752.3" x2="440.1" y2="752.3"/>
<line x1="413.8" y1="479.8" x2="440.1" y2="479.8"/>
<line x1="440.1" y1="1842.2" x2="440.1" y2="1868.5"/>
<line x1="1777.1" y1="1842.2" x2="1777.1" y2="1868.5"/>
<line x1="3114" y1="1842.2" x2="3114" y2="1868.5"/>
</g>
<g font-size="82" text-anchor="end">
<text x="384" y="1871.5" textLength="167" lengthAdjust="spacingAndGlyphs">0.00</text>
<text x="384" y="1599" textLength="167" lengthAdjust="spacingAndGlyphs">0.05</text>
<text x="384" y="1326.5" textLength="167" lengthAdjust="spacingAndGlyphs">0.10</text>
<text x="384" y="1054" textLength="167" lengthAdjust="spacingAndGlyphs">0.15</text>
<text x="384" y="781.5" textLength="167" lengthAdjust="spacingAndGlyphs">0.20</text>
<text x="384" y="509" textLength="167" lengthAdjust="spacingAndGlyphs">0.25</text>
</g>
<g font-size="82" text-anchor="middle">
<text x="441.8" y="1954.5" textLength="206" lengthAdjust="spacingAndGlyphs">&#8722;250</text>
<text x="1777" y="1954.5">0</text>
<text x="3114" y="1954.5" textLength="144.5" lengthAdjust="spacingAndGlyphs">250</text>
</g>
<rect x="2173.5" y="286.9" width="902.2" height="472.8" rx="15" ry="15" fill="#fff" fill-opacity="0.8" stroke="#d6d6d6" stroke-width="7.5"/>
<g stroke-width="11.25" stroke-linecap="butt">
<line x1="2198.3" y1="348.8" x2="2363.1" y2="348.8" stroke="#0000ff"/>
<line x1="2198.3" y1="461.3" x2="2363.1" y2="461.3" stroke="#ff0000"/>
<line x1="2198.3" y1="573.8" x2="2363.1" y2="573.8" stroke="#000000"/>
<line x1="2198.3" y1="686.3" x2="2363.1" y2="686.3" stroke="#808080"/>
</g>
<g><text x="2417.50" y="376.4" font-size="80" textLength="306.50" lengthAdjust="spacingAndGlyphs">CSRNP1</text>
<text x="2751.00" y="376.4" font-size="80" textLength="294.00" lengthAdjust="spacingAndGlyphs">forward</text>
<text x="2417.50" y="488.5" font-size="80" textLength="306.50" lengthAdjust="spacingAndGlyphs">CSRNP1</text>
<text x="2751.00" y="488.5" font-size="80" textLength="288.00" lengthAdjust="spacingAndGlyphs">reverse</text>
<text x="2417.00" y="600.6" font-size="80" textLength="132.50" lengthAdjust="spacingAndGlyphs">IgG</text>
<text x="2574.00" y="600.6" font-size="80" textLength="293.50" lengthAdjust="spacingAndGlyphs">forward</text>
<text x="2417.00" y="712.7" font-size="80" textLength="132.50" lengthAdjust="spacingAndGlyphs">IgG</text>
<text x="2575.00" y="712.7" font-size="80" textLength="287.00" lengthAdjust="spacingAndGlyphs">reverse</text>
<text x="1149.00" y="2059" font-size="82" font-weight="bold" textLength="375.00" lengthAdjust="spacingAndGlyphs">Distance</text>
<text x="1551.50" y="2059" font-size="82" font-weight="bold" textLength="203.50" lengthAdjust="spacingAndGlyphs">from</text>
<text x="1782.00" y="2059" font-size="82" font-weight="bold" textLength="416.00" lengthAdjust="spacingAndGlyphs">reference</text>
<text x="2227.00" y="2059" font-size="82" font-weight="bold" textLength="177.00" lengthAdjust="spacingAndGlyphs">(bp)</text>
<text transform="translate(168.9,1465.00) rotate(-90)" x="0" y="0" font-size="82" font-weight="bold" textLength="356.00" lengthAdjust="spacingAndGlyphs">Average</text>
<text transform="translate(168.9,1082.00) rotate(-90)" x="0" y="0" font-size="82" font-weight="bold" textLength="454.50" lengthAdjust="spacingAndGlyphs">occupancy</text></g>
</svg>
</body></html>
